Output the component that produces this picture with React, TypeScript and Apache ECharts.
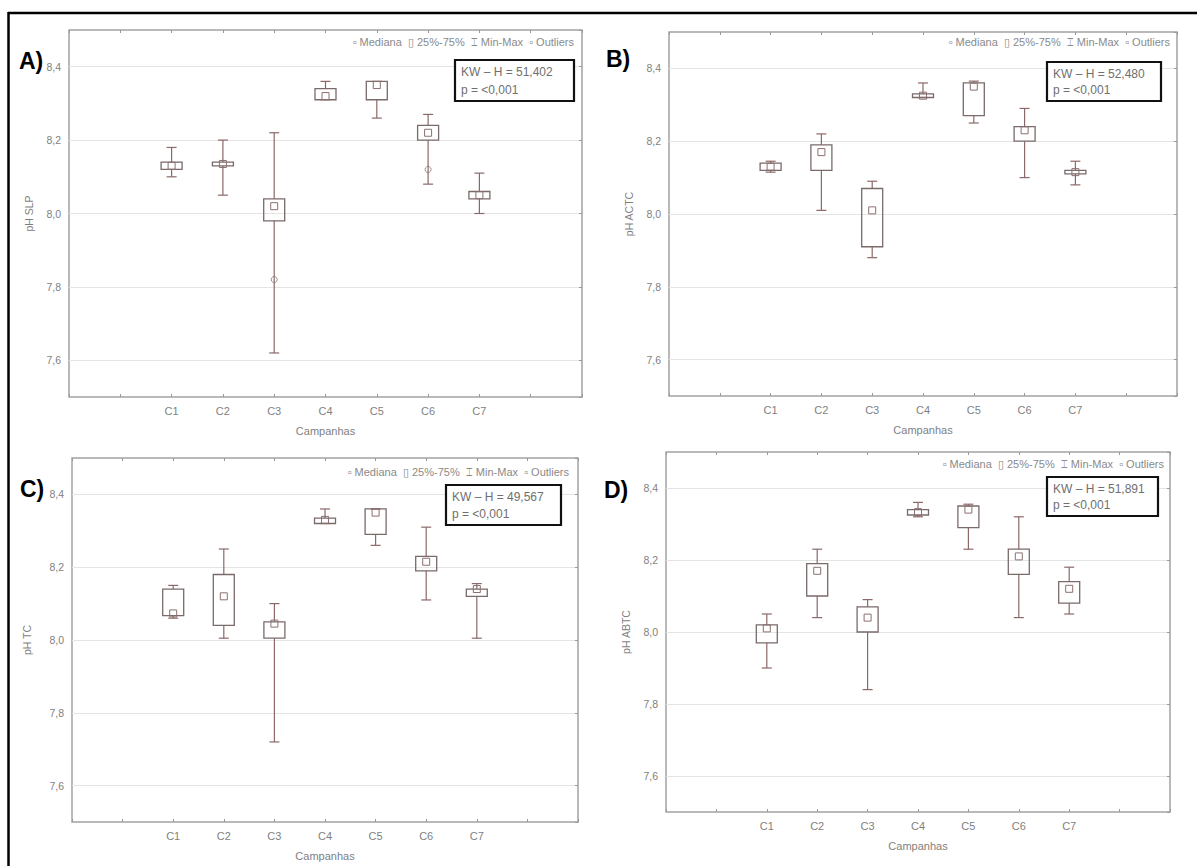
import React, { useEffect, useRef } from 'react';
import * as echarts from 'echarts';

// ---------- data ----------
const categories = ['C1', 'C2', 'C3', 'C4', 'C5', 'C6', 'C7'];
const xSlots = ['', '', ...categories, '', ''];
const panelLetters = ['A)', 'B)', 'C)', 'D)'];
const yNames = ['pH SLP', 'pH ACTC', 'pH TC', 'pH ABTC'];
const kwTexts = ['KW – H = 51,402', 'KW – H = 52,480', 'KW – H = 49,567', 'KW – H = 51,891'];
const pText = 'p = <0,001';
const xName = 'Campanhas';
const legendText = '▫ Mediana  ▯ 25%-75%  ⌶ Min-Max  ▫ Outliers';

// Panel A – pH SLP
const aMin = [8.10, 8.05, 7.62, 8.31, 8.26, 8.08, 8.00];
const aQ1 = [8.12, 8.13, 7.98, 8.31, 8.31, 8.20, 8.04];
const aMed = [8.13, 8.135, 8.02, 8.32, 8.35, 8.22, 8.05];
const aQ3 = [8.14, 8.14, 8.04, 8.34, 8.36, 8.24, 8.06];
const aMax = [8.18, 8.20, 8.22, 8.36, 8.36, 8.27, 8.11];
const aOutCat = ['C3', 'C6'];
const aOutVal = [7.82, 8.12];

// Panel B – pH ACTC
const bMin = [8.115, 8.01, 7.88, 8.32, 8.25, 8.10, 8.08];
const bQ1 = [8.12, 8.12, 7.91, 8.32, 8.27, 8.20, 8.11];
const bMed = [8.13, 8.17, 8.01, 8.325, 8.35, 8.23, 8.115];
const bQ3 = [8.14, 8.19, 8.07, 8.33, 8.36, 8.24, 8.12];
const bMax = [8.145, 8.22, 8.09, 8.36, 8.365, 8.29, 8.145];

// Panel C – pH TC
const cMin = [8.06, 8.005, 7.72, 8.32, 8.26, 8.11, 8.005];
const cQ1 = [8.067, 8.04, 8.005, 8.32, 8.29, 8.19, 8.12];
const cMed = [8.073, 8.12, 8.045, 8.33, 8.35, 8.215, 8.14];
const cQ3 = [8.14, 8.18, 8.05, 8.335, 8.36, 8.23, 8.14];
const cMax = [8.15, 8.25, 8.10, 8.36, 8.36, 8.31, 8.155];

// Panel D – pH ABTC
const dMin = [7.90, 8.04, 7.84, 8.32, 8.23, 8.04, 8.05];
const dQ1 = [7.97, 8.10, 8.00, 8.325, 8.29, 8.16, 8.08];
const dMed = [8.01, 8.17, 8.04, 8.333, 8.34, 8.21, 8.12];
const dQ3 = [8.02, 8.19, 8.07, 8.34, 8.35, 8.23, 8.14];
const dMax = [8.05, 8.23, 8.09, 8.36, 8.355, 8.32, 8.18];

const panelStats = [
  [aMin, aQ1, aMed, aQ3, aMax],
  [bMin, bQ1, bMed, bQ3, bMax],
  [cMin, cQ1, cMed, cQ3, cMax],
  [dMin, dQ1, dMed, dQ3, dMax],
];
const panelOutliers = [
  { cats: aOutCat, vals: aOutVal },
  { cats: [] as string[], vals: [] as number[] },
  { cats: [] as string[], vals: [] as number[] },
  { cats: [] as string[], vals: [] as number[] },
];

// ---------- layout ----------
const grids = [
  { left: 69, top: 30, width: 513, height: 367 },
  { left: 669, top: 32, width: 508, height: 364 },
  { left: 72, top: 458, width: 506, height: 364 },
  { left: 666, top: 452, width: 504, height: 360 },
];
const yNameGaps = [35, 35, 40, 35];
const letterPos = [
  { x: 19, y: 61 },
  { x: 606, y: 59 },
  { x: 20, y: 489 },
  { x: 604, y: 490 },
];
const legendPos = [
  { x: 574, y: 42 },
  { x: 1170, y: 42 },
  { x: 569, y: 472 },
  { x: 1164, y: 464 },
];
const kwBoxes = [
  { x: 455, y: 60, w: 119, h: 41 },
  { x: 1047, y: 62, w: 114, h: 39 },
  { x: 446, y: 485, w: 115, h: 40 },
  { x: 1047, y: 477, w: 111, h: 39 },
];

const BOX_COLOR = '#7a6a6a';
const WHISKER_COLOR = '#8c6868';
const TEXT_COLOR = '#7f7f7f';
const FONT = '"Liberation Sans", Arial, "DejaVu Sans", sans-serif';

export default function App() {
  const ref = useRef<HTMLDivElement>(null);

  useEffect(() => {
    if (!ref.current) return;
    const chart = echarts.init(ref.current, undefined, { renderer: 'svg' });

    const xAxes: any[] = [];
    const yAxes: any[] = [];
    const series: any[] = [];
    const graphics: any[] = [];

    grids.forEach((g, i) => {
      xAxes.push({
        type: 'category',
        gridIndex: i,
        data: xSlots,
        boundaryGap: false,
        name: xName,
        nameLocation: 'middle',
        nameGap: 28,
        nameTextStyle: { color: TEXT_COLOR, fontSize: 11, fontFamily: FONT },
        axisLine: { show: false },
        axisTick: { show: true, inside: true, length: 3, interval: 0, lineStyle: { color: '#999' } },
        axisLabel: { interval: 0, color: TEXT_COLOR, fontSize: 11, margin: 8, fontFamily: FONT },
        splitLine: { show: false },
      });
      xAxes.push({
        type: 'category',
        gridIndex: i,
        position: 'top',
        data: xSlots,
        boundaryGap: false,
        axisLine: { show: false },
        axisTick: { show: true, inside: true, length: 3, interval: 0, lineStyle: { color: '#999' } },
        axisLabel: { show: false },
        splitLine: { show: false },
      });
      yAxes.push({
        type: 'value',
        gridIndex: i,
        min: 7.5,
        max: 8.5,
        interval: 0.1,
        name: yNames[i],
        nameLocation: 'middle',
        nameRotate: 90,
        nameGap: yNameGaps[i],
        nameTextStyle: { color: TEXT_COLOR, fontSize: 10.5, fontFamily: FONT },
        axisLine: { show: false },
        axisTick: { show: false },
        axisLabel: {
          color: TEXT_COLOR,
          fontSize: 10.5,
          margin: 8,
          fontFamily: FONT,
          formatter: (v: number) => {
            const k = Math.round(v * 10);
            return k % 2 === 0 ? (k / 10).toFixed(1).replace('.', ',') : '';
          },
        },
        splitLine: { show: true, lineStyle: { color: ['transparent', '#e4e4e4'], width: 1 } },
      });
      yAxes.push({
        type: 'value',
        gridIndex: i,
        position: 'right',
        min: 7.5,
        max: 8.5,
        splitNumber: 5,
        axisLine: { show: false },
        axisTick: { show: true, inside: true, length: 3, lineStyle: { color: '#999' } },
        axisLabel: { show: false },
        splitLine: { show: false },
      });

      const [mins, q1s, meds, q3s, maxs] = panelStats[i];
      const data = categories.map((c, k) => [
        xSlots.indexOf(c),
        mins[k],
        q1s[k],
        meds[k],
        q3s[k],
        maxs[k],
      ]);

      series.push({
        type: 'custom',
        xAxisIndex: i * 2,
        yAxisIndex: i * 2,
        encode: { x: 0, y: [1, 2, 3, 4, 5] },
        data,
        renderItem: (_p: any, api: any) => {
          const x = api.value(0);
          const pMin = api.coord([x, api.value(1)]);
          const pQ1 = api.coord([x, api.value(2)]);
          const pMed = api.coord([x, api.value(3)]);
          const pQ3 = api.coord([x, api.value(4)]);
          const pMax = api.coord([x, api.value(5)]);
          const cx = pMin[0];
          const bw = 21;
          const cw = 10;
          const ms = 7;
          const ws = { stroke: WHISKER_COLOR, lineWidth: 1.2 };
          return {
            type: 'group',
            children: [
              { type: 'line', shape: { x1: cx, y1: pMax[1], x2: cx, y2: pQ3[1] }, style: ws },
              { type: 'line', shape: { x1: cx, y1: pQ1[1], x2: cx, y2: pMin[1] }, style: ws },
              { type: 'line', shape: { x1: cx - cw / 2, y1: pMax[1], x2: cx + cw / 2, y2: pMax[1] }, style: ws },
              { type: 'line', shape: { x1: cx - cw / 2, y1: pMin[1], x2: cx + cw / 2, y2: pMin[1] }, style: ws },
              {
                type: 'rect',
                shape: { x: cx - bw / 2, y: pQ3[1], width: bw, height: Math.max(1, pQ1[1] - pQ3[1]) },
                style: { fill: 'rgba(255,255,255,0)', stroke: BOX_COLOR, lineWidth: 1.3 },
              },
              {
                type: 'rect',
                shape: { x: cx - ms / 2, y: pMed[1] - ms / 2, width: ms, height: ms },
                style: { fill: 'rgba(255,255,255,0)', stroke: '#8a7070', lineWidth: 1 },
              },
            ],
          };
        },
      });

      const outs = panelOutliers[i];
      if (outs.cats.length) {
        series.push({
          type: 'scatter',
          xAxisIndex: i * 2,
          yAxisIndex: i * 2,
          symbol: 'circle',
          symbolSize: 6,
          itemStyle: { color: 'rgba(255,255,255,0)', borderColor: '#8a7070', borderWidth: 1 },
          data: outs.cats.map((c, k) => [xSlots.indexOf(c), outs.vals[k]]),
        });
      }

      // panel letter
      graphics.push({
        type: 'text',
        x: letterPos[i].x,
        y: letterPos[i].y,
        z: 100,
        style: {
          text: panelLetters[i],
          fontSize: 23,
          fontWeight: 'bold',
          fontFamily: '"Liberation Sans", Arial, sans-serif',
          fill: '#000',
          verticalAlign: 'middle',
          align: 'left',
        },
      });
      // legend text
      graphics.push({
        type: 'text',
        x: legendPos[i].x,
        y: legendPos[i].y,
        style: {
          text: legendText,
          fontSize: 11,
          fontFamily: FONT,
          fill: '#8a8a8a',
          align: 'right',
          verticalAlign: 'middle',
        },
      });
      // KW box
      const b = kwBoxes[i];
      graphics.push({
        type: 'rect',
        shape: { x: b.x, y: b.y, width: b.w, height: b.h },
        style: { fill: '#fff', stroke: '#111', lineWidth: 2.2 },
        z: 50,
      });
      graphics.push({
        type: 'text',
        x: b.x + 6,
        y: b.y + b.h * 0.3,
        z: 51,
        style: { text: kwTexts[i], fontSize: 12, fontFamily: FONT, fill: '#6f6f6f', verticalAlign: 'middle' },
      });
      graphics.push({
        type: 'text',
        x: b.x + 6,
        y: b.y + b.h * 0.72,
        z: 51,
        style: { text: pText, fontSize: 12, fontFamily: FONT, fill: '#6f6f6f', verticalAlign: 'middle' },
      });
    });

    // outer frame
    graphics.push({
      type: 'line',
      shape: { x1: 8, y1: 13, x2: 1197, y2: 13 },
      style: { stroke: '#000', lineWidth: 2.5 },
      z: 100,
    });
    graphics.push({
      type: 'line',
      shape: { x1: 8.5, y1: 12, x2: 8.5, y2: 866 },
      style: { stroke: '#000', lineWidth: 2.5 },
      z: 100,
    });

    chart.setOption({
      animation: false,
      backgroundColor: '#fff',
      grid: grids.map((g) => ({
        ...g,
        show: true,
        borderColor: '#a3a3a3',
        borderWidth: 1.5,
        backgroundColor: 'rgba(255,255,255,0)',
        containLabel: false,
      })),
      xAxis: xAxes,
      yAxis: yAxes,
      series,
      graphic: { elements: graphics },
    });

    return () => chart.dispose();
  }, []);

  return (
    <div
      ref={ref}
      style={{ position: 'absolute', left: 0, top: 0, width: 1197, height: 866, background: '#fff' }}
    />
  );
}
